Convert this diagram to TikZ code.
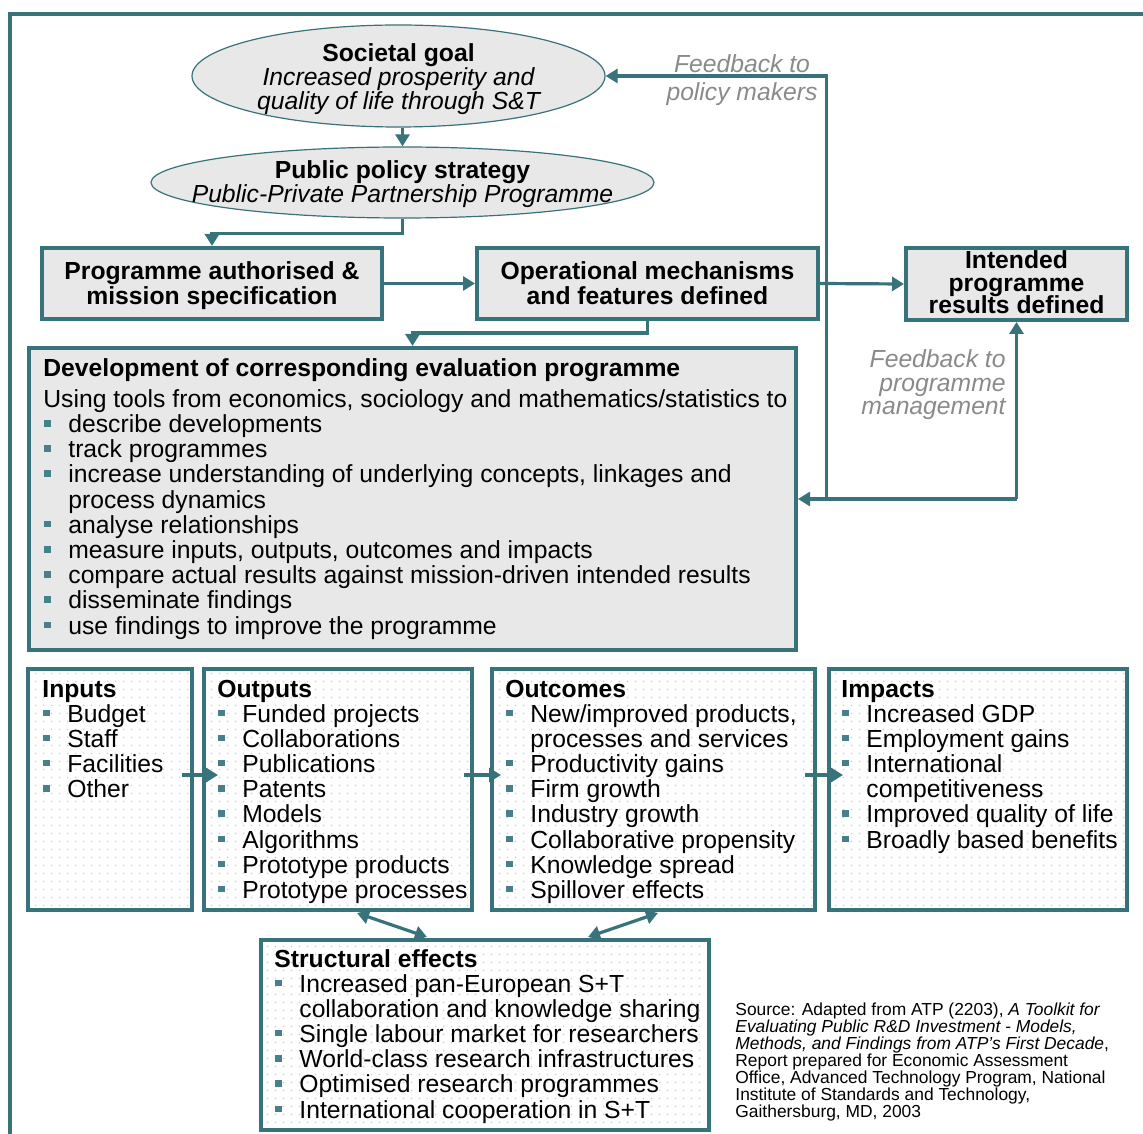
\documentclass[tikz,border=0pt]{standalone}
\usepackage{fontspec}
\setmainfont{Liberation Sans}
\usetikzlibrary{arrows.meta,patterns.meta,calc,shapes.geometric}
\definecolor{tealc}{RGB}{56,114,122}
\definecolor{bulc}{RGB}{70,128,136}
\definecolor{boxgray}{RGB}{232,232,232}
\definecolor{dotc}{RGB}{200,214,216}
\definecolor{fbgray}{RGB}{138,138,138}
\tikzdeclarepattern{
  name=bgdots,
  type=uncolored,
  bounding box={(0pt,0pt) and (4pt,4pt)},
  tile size={(4pt,4pt)},
  code={\fill (2pt,2pt) circle (0.5pt);}
}
\newcommand{\rbox}[6]{\node[#2, minimum width={(#5-#3)*0.5pt}, minimum height={(#6-#4)*0.5pt}] (#1) at ({(#3+#5)/2},{(#4+#6)/2}) {};}
\newcommand{\blist}[4]{%
  \foreach \bflag/\itext [count=\i from 0] in {#4} {
    \node[txt] (#1\i) at (#2, #3+\i*25.2) {\itext};
    \ifnum\bflag=1 \fill[bulc] (#2-24, #3+\i*25.2-12.5) rectangle (#2-17.5, #3+\i*25.2-6); \fi
  }}
\tikzset{
  gbox/.style={draw=tealc, line width=2pt, fill=boxgray, inner sep=0},
  dbox/.style={draw=tealc, line width=2pt, pattern=bgdots, pattern color=dotc, inner sep=0},
  ell/.style={ellipse, draw=tealc, line width=0.6pt, fill=boxgray, inner sep=0},
  arr/.style={draw=tealc, line width=1.6pt, -{Triangle[length=6pt,width=7pt]}},
  darr/.style={draw=tealc, line width=1.6pt, {Triangle[length=6pt,width=7pt]}-{Triangle[length=6pt,width=7pt]}},
  txt/.style={inner sep=0, anchor=base west, font=\fontsize{12.35}{12.65}\selectfont},
  btxt/.style={txt, font=\fontsize{12.35}{12.65}\selectfont\bfseries},
  ctxt/.style={txt, anchor=base},
  cbtxt/.style={btxt, anchor=base},
  citxt/.style={txt, anchor=base, font=\fontsize{12.35}{12.65}\selectfont\itshape},
  fbtxt/.style={txt, text=fbgray, font=\fontsize{12.35}{12.65}\selectfont\itshape},
  srctxt/.style={inner sep=0, anchor=base west, font=\fontsize{8.7}{8.6}\selectfont},
}
\begin{document}
\begin{tikzpicture}[x=0.5pt, y=-0.5pt]
\useasboundingbox (0,0) rectangle (1143,1133);
\clip (0,0) rectangle (1143,1133);
% outer frame
\draw[tealc, line width=2pt] (10,1150) -- (10,14) -- (1160,14);

% ellipses
\node[ell, minimum width=206.5pt, minimum height=51pt] (soc) at (398.5,76) {};
\node[ell, minimum width=251.5pt, minimum height=35.5pt] (pub) at (402.5,182.5) {};

% grey boxes
\rbox{prog}{gbox}{42}{248}{382}{319}
\rbox{oper}{gbox}{477}{248}{818}{319}
\rbox{intd}{gbox}{906}{248}{1127}{320}
\rbox{eval}{gbox}{29}{348}{796}{650}

% dotted boxes
\rbox{inp}{dbox}{28}{669}{192}{910}
\rbox{outp}{dbox}{204}{669}{472}{910}
\rbox{outc}{dbox}{492}{669}{815}{910}
\rbox{imp}{dbox}{829}{669}{1127}{910}
\rbox{strc}{dbox}{261}{940}{709}{1130}

% connectors
\draw[arr] (pub.north |- soc.south) -- (pub.north);
\draw[arr] (pub.south) -- ++(0,15) -| (prog.north);
\draw[arr] (prog.east) -- (oper.west);
\draw[arr] (oper.east) -- (intd.west);
\draw[arr] (oper.south) -- ++(0,12) -| (eval.north);
\coordinate (fbA) at (826.5,499);
\coordinate (fbB) at (1016.5,499);
\draw[arr] (fbB) -- (fbB -| eval.east);
\draw[arr] (fbB) -- (intd.south);
\draw[arr] (fbA) |- (soc.east);

\draw[arr] ($(inp.east)+(-12,-14.5)$) -- ($(outp.west)+(16,-14.5)$);
\draw[arr] ($(outp.east)+(-10,-14.5)$) -- ($(outc.west)+(11,-14.5)$);
\draw[arr] ($(outc.east)+(-12,-14.5)$) -- ($(imp.west)+(16,-14.5)$);
\draw[darr] ($(outp.south)+(19,1)$) -- ($(strc.north)+(-58,-1)$);
\draw[darr] ($(outc.south)+(4.5,1)$) -- ($(strc.north)+(103,-1)$);

% ellipse texts
\node[cbtxt] (soc1) at (398.5,62) {Societal goal};
\node[citxt] (soc2) at (398.5,86) {Increased prosperity and};
\node[citxt] (soc3) at (398.5,110) {quality of life through S\&T};
\node[cbtxt] (pub1) at (402.5,179) {Public policy strategy};
\node[citxt] (pub2) at (402.5,203) {Public-Private Partnership Programme};

% box texts
\node[cbtxt] (prog1) at (212,280) {Programme authorised \&};
\node[cbtxt] (prog2) at (212,305) {mission specification};
\node[cbtxt] (oper1) at (647.5,280) {Operational mechanisms};
\node[cbtxt] (oper2) at (647.5,305) {and features defined};
\node[cbtxt] (intd1) at (1016.5,269) {Intended};
\node[cbtxt] (intd2) at (1016.5,291.5) {programme};
\node[cbtxt] (intd3) at (1016.5,314) {results defined};

% feedback labels
\node[fbtxt, anchor=base] (fbp1) at (742,73) {Feedback to};
\node[fbtxt, anchor=base] (fbp2) at (742,101) {policy makers};
\node[fbtxt, anchor=base east] (fbm1) at (1006,367) {Feedback to};
\node[fbtxt, anchor=base east] (fbm2) at (1006,391) {programme};
\node[fbtxt, anchor=base east] (fbm3) at (1006,414) {management};

% evaluation box
\node[btxt] (ev0) at (43,377) {Development of corresponding evaluation programme};
\node[txt] (ev1) at (43,407) {Using tools from economics, sociology and mathematics/statistics to};
\blist{evl}{68}{432.5}{1/describe developments, 1/track programmes, 1/{increase understanding of underlying concepts, linkages and}, 0/process dynamics, 1/analyse relationships, 1/{measure inputs, outputs, outcomes and impacts}, 1/compare actual results against mission-driven intended results, 1/disseminate findings, 1/use findings to improve the programme}

% lower boxes
\node[btxt] (inpT) at (42,697) {Inputs};
\blist{inpl}{67}{722}{1/Budget, 1/Staff, 1/Facilities, 1/Other}
\node[btxt] (outpT) at (217,697) {Outputs};
\blist{outpl}{242}{722}{1/Funded projects, 1/Collaborations, 1/Publications, 1/Patents, 1/Models, 1/Algorithms, 1/Prototype products, 1/Prototype processes}
\node[btxt] (outcT) at (505,697) {Outcomes};
\blist{outcl}{530}{722}{1/{New/improved products,}, 0/processes and services, 1/Productivity gains, 1/Firm growth, 1/Industry growth, 1/Collaborative propensity, 1/Knowledge spread, 1/Spillover effects}
\node[btxt] (impT) at (841,697) {Impacts};
\blist{impl}{866}{722}{1/Increased GDP, 1/Employment gains, 1/International, 0/competitiveness, 1/Improved quality of life, 1/Broadly based benefits}
\node[btxt] (strcT) at (274,967) {Structural effects};
\blist{strcl}{299}{992}{1/Increased pan-European S+T, 0/collaboration and knowledge sharing, 1/Single labour market for researchers, 1/World-class research infrastructures, 1/Optimised research programmes, 1/International cooperation in S+T}

% source
\node[srctxt] (src1) at (735,1015) {Source: Adapted from ATP (2203), \textit{A Toolkit for}};
\node[srctxt] (src2) at (735,1032.1) {\textit{Evaluating Public R\&D Investment - Models,}};
\node[srctxt] (src3) at (735,1049.2) {\textit{Methods, and Findings from ATP’s First Decade},};
\node[srctxt] (src4) at (735,1066.3) {Report prepared for Economic Assessment};
\node[srctxt] (src5) at (735,1083.4) {Office, Advanced Technology Program, National};
\node[srctxt] (src6) at (735,1100.5) {Institute of Standards and Technology,};
\node[srctxt] (src7) at (735,1117.6) {Gaithersburg, MD, 2003};
\end{tikzpicture}
\end{document}
